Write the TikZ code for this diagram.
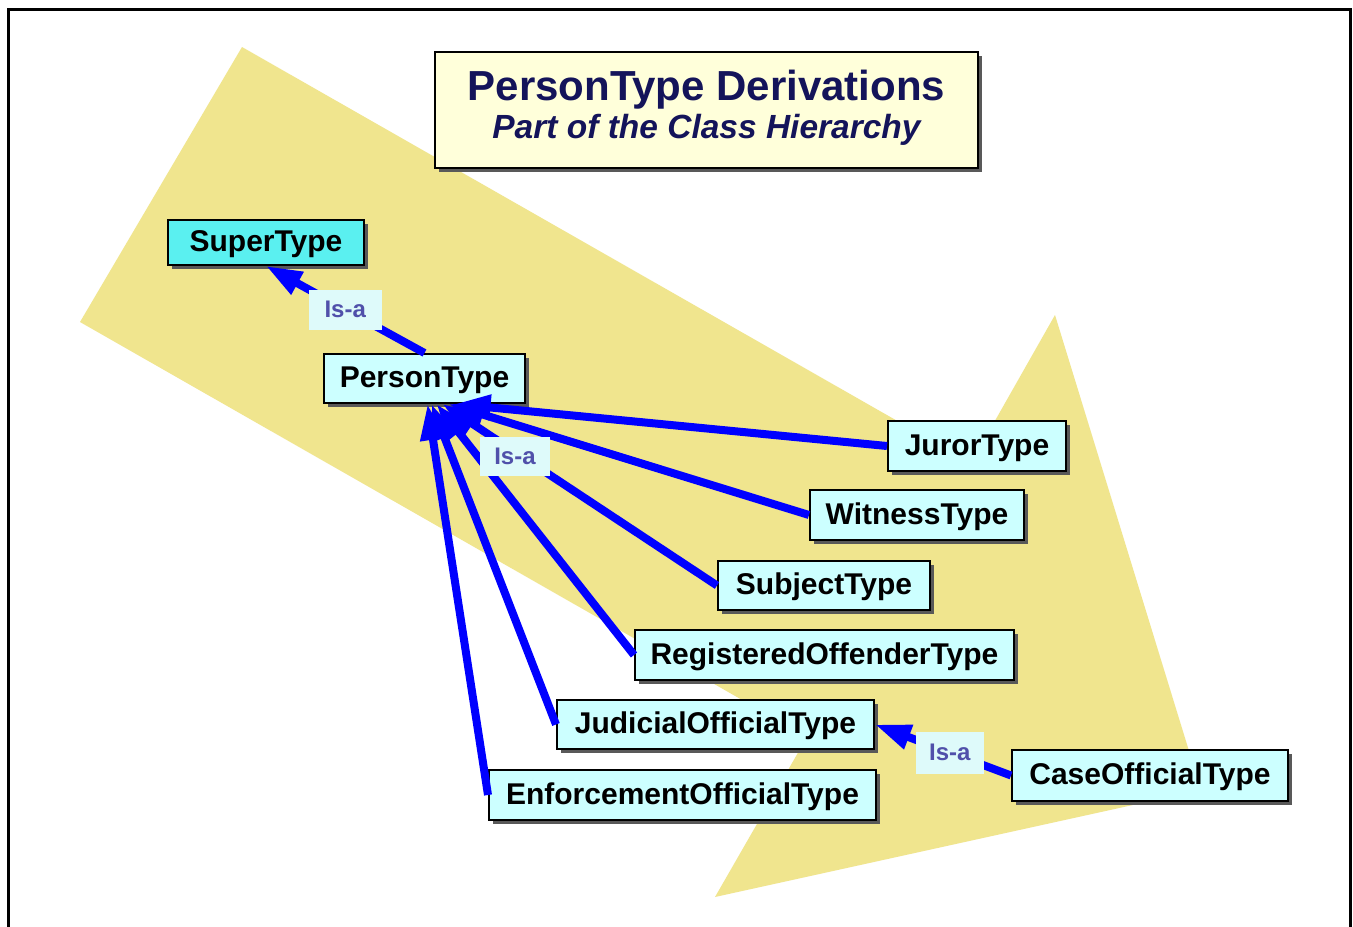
\documentclass[tikz,border=0pt]{standalone}
\usepackage{fontspec}
\setmainfont{Liberation Sans}
\usetikzlibrary{arrows.meta,shadows}
\definecolor{band}{RGB}{240,229,142}
\definecolor{boxfill}{RGB}{204,255,255}
\definecolor{superfill}{RGB}{90,240,240}
\definecolor{titlefill}{RGB}{255,255,218}
\definecolor{navy}{RGB}{20,20,90}
\definecolor{lblfill}{RGB}{222,250,250}
\definecolor{lbltext}{RGB}{80,80,170}
\definecolor{conn}{RGB}{0,0,255}
\begin{document}
\begin{tikzpicture}[x=1pt,y=-1pt,
  boxshadow/.style={general shadow={fill=black!65, shadow xshift=4pt, shadow yshift=-4pt}},
  typebox/.style={draw=black, line width=2pt, fill=boxfill, inner sep=0pt,
    text height=22pt, text depth=4pt,
    font=\fontsize{30}{32}\selectfont\bfseries, text=black, boxshadow},
  isalabel/.style={fill=lblfill, inner sep=0pt, minimum width=70pt, minimum height=39pt,
    font=\fontsize{24}{26}\selectfont\bfseries, text=lbltext},
  isaline/.style={draw=conn, line width=8pt, -{Triangle[length=36pt,width=24pt]}},
]
\useasboundingbox (0,0) rectangle (1353,927);
\fill[white] (0,0) rectangle (1353,927);
% background band arrow
\fill[band] (242,47) -- (971,463) -- (1055,315) -- (1201,790) -- (715,897) -- (807,737) -- (80,322) -- cycle;
% frame
\draw[line width=3pt] (8,927) -- (8,9) -- (1350,9) -- (1350,927);
% title
\node[draw=black, line width=2pt, fill=titlefill, minimum width=543pt, minimum height=116pt, boxshadow] (title) at (706.5,110) {};
\node[anchor=base, font=\fontsize{42}{46}\selectfont\bfseries, text=navy] (t1) at (706.5,100) {PersonType Derivations};
\node[anchor=base, font=\fontsize{33.5}{36}\selectfont\bfseries\itshape, text=navy] (t2) at (706.5,138) {Part of the Class Hierarchy};
% type boxes
\node[typebox, fill=superfill, minimum width=196pt, minimum height=45pt] (super) at (266,242.5) {SuperType};
\node[typebox, minimum width=201pt, minimum height=49pt] (pt) at (424.5,378.5) {PersonType};
\node[typebox, minimum width=178pt, minimum height=50pt] (juror) at (977,446) {JurorType};
\node[typebox, minimum width=214pt, minimum height=50pt] (witness) at (917,515) {WitnessType};
\node[typebox, minimum width=212pt, minimum height=49pt] (subject) at (824,585.5) {SubjectType};
\node[typebox, minimum width=379pt, minimum height=50pt] (reg) at (824.5,655) {RegisteredOffenderType};
\node[typebox, minimum width=317pt, minimum height=49pt] (jud) at (715.5,724.5) {JudicialOfficialType};
\node[typebox, minimum width=387pt, minimum height=50pt] (enf) at (682.5,795) {EnforcementOfficialType};
\node[typebox, minimum width=276pt, minimum height=51pt] (case) at (1150,775.5) {CaseOfficialType};
% connectors
\draw[isaline] (pt.north) -- node[isalabel, minimum width=73pt, minimum height=40pt] (l1) {Is-a} (super.south);
\draw[isaline] (juror.west) -- ([xshift=30pt]pt.south);
\draw[isaline] (witness.west) -- ([xshift=24pt]pt.south);
\draw[isaline] (subject.west) -- ([xshift=18pt]pt.south);
\draw[isaline] (reg.west) -- ([xshift=12pt]pt.south);
\draw[isaline] (jud.west) -- ([xshift=7pt]pt.south);
\draw[isaline] (enf.west) -- ([xshift=3pt]pt.south);
\node[isalabel] (l2) at (515,456) {Is-a};
\draw[isaline] (case.west) -- node[isalabel, pos=0.45, minimum width=68pt, minimum height=42pt] (l3) {Is-a} (jud.east);
\end{tikzpicture}
\end{document}
